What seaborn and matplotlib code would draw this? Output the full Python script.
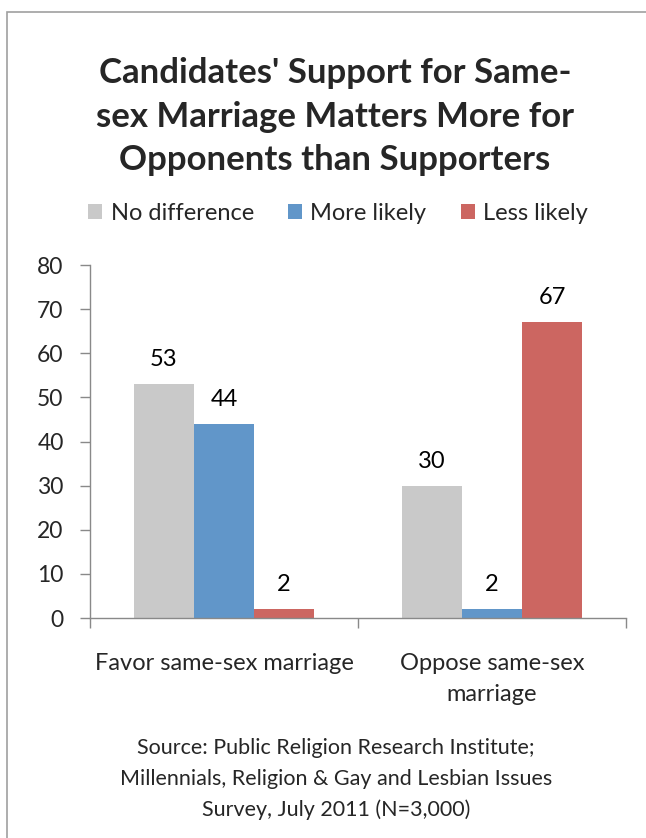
import matplotlib
matplotlib.use("Agg")
import matplotlib.pyplot as plt
import seaborn as sns
import pandas as pd
from matplotlib.patches import Rectangle, Patch

categories = ["Favor same-sex marriage", "Oppose same-sex\nmarriage"]
series = ["No difference", "More likely", "Less likely"]
no_difference = [53, 30]
more_likely = [44, 2]
less_likely = [2, 67]
colors = ["#C9C9C9", "#6196C9", "#CC6661"]
yticks = [0, 10, 20, 30, 40, 50, 60, 70, 80]
title_lines = ["Candidates' Support for Same-", "sex Marriage Matters More for",
               "Opponents than Supporters"]
source_lines = ["Source: Public Religion Research Institute;",
                "Millennials, Religion & Gay and Lesbian Issues",
                "Survey, July 2011 (N=3,000)"]

rows = []
for s, vals in zip(series, [no_difference, more_likely, less_likely]):
    for c, v in zip(categories, vals):
        rows.append({"cat": c, "series": s, "value": v})
df = pd.DataFrame(rows)

sns.set_theme(style="white")
plt.rcParams["font.family"] = ["Lato", "DejaVu Sans"]

W, H = 646, 838
fig = plt.figure(figsize=(W/100, H/100), dpi=100)
ax = fig.add_axes([90/W, 1-618/H, (626-90)/W, (618-265)/H])

sns.barplot(data=df, x="cat", y="value", hue="series", order=categories,
            hue_order=series, palette=colors, width=0.672, gap=0,
            saturation=1, ax=ax, legend=False, linewidth=0)

for cont in ax.containers:
    ax.bar_label(cont, padding=10, fontsize=17, color="black")

ax.set_ylim(0, 80)
ax.set_xlim(-0.5, 1.5)
ax.set_yticks(yticks)
ax.set_yticklabels([str(t) for t in yticks], fontsize=16.5)
ax.set_xticks([0, 1])
ax.set_xticklabels(categories, fontsize=17, linespacing=1.6)
ax.set_xlabel("")
ax.set_ylabel("")
for sp in ["top", "right"]:
    ax.spines[sp].set_visible(False)
for sp in ["left", "bottom"]:
    ax.spines[sp].set_color("#898989")
    ax.spines[sp].set_linewidth(1)
ax.tick_params(axis="y", length=7, width=1, color="#898989", pad=12, left=True, direction="out")
ax.tick_params(axis="x", length=0, pad=25)
ax.set_xticks([-0.5, 0.5, 1.5], minor=True)
ax.tick_params(axis="x", which="minor", length=7, width=1, color="#898989", bottom=True, direction="out")

for y, line in zip([73, 117, 160], title_lines):
    fig.text(335/W, 1-y/H, line, ha="center", va="center", fontsize=25, fontweight="bold")

handles = [Patch(facecolor=c, edgecolor="none") for c in colors]
fig.legend(handles, series, loc="center", bbox_to_anchor=(338/W, 1-213/H), ncol=3,
           frameon=False, fontsize=17, handlelength=0.6, handleheight=0.6,
           handletextpad=0.35, columnspacing=1.45, borderpad=0)

for y, line in zip([748, 779, 810], source_lines):
    fig.text(336/W, 1-y/H, line, ha="center", va="center", fontsize=15.5)

fig.patches.append(Rectangle((7/W, -0.1), 1.2, 1-12/H+0.1, transform=fig.transFigure,
                             fill=False, edgecolor="#A0A0A0", linewidth=1.2))

fig.savefig("out.png", dpi=100)
